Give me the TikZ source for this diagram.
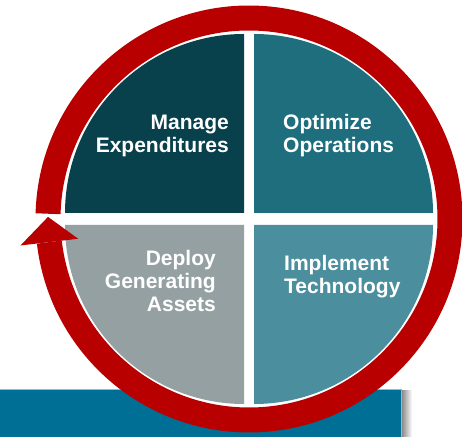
\documentclass[tikz,border=0pt]{standalone}
\usepackage{fontspec}
\setmainfont{Liberation Sans}
\definecolor{tlcol}{RGB}{8,64,76}
\definecolor{trcol}{RGB}{30,110,126}
\definecolor{brcol}{RGB}{75,142,157}
\definecolor{blcol}{RGB}{148,160,162}
\definecolor{ringred}{RGB}{185,0,0}
\definecolor{bandblue}{RGB}{0,111,150}
\tikzset{
  quarter/.style={text=white, font=\bfseries\fontsize{21}{23}\selectfont, inner sep=0pt},
}
\begin{document}
\begin{tikzpicture}[x=1pt,y=1pt]
    \useasboundingbox (0,0) rectangle (462,436);
    % band at the bottom
    \shade[left color=black!50, right color=white] (401,0) rectangle (412,46);
    \filldraw[fill=bandblue, draw=white!55!bandblue, line width=0.8pt] (-1,-1) rectangle (401,47);
    \begin{scope}[shift={(249,217)}]
      \fill[white] (0,0) circle (190);
      % the four quarters
      \fill[tlcol] (-5,6) -- ++(-179,0) arc[start angle=180, end angle=90, radius=179] -- cycle;
      \fill[trcol] (5,6) -- ++(0,179) arc[start angle=90, end angle=0, radius=179] -- cycle;
      \fill[brcol] (5,-6) -- ++(179,0) arc[start angle=0, end angle=-90, radius=179] -- cycle;
      \fill[blcol] (-5,-6) -- ++(0,-179) arc[start angle=-90, end angle=-180, radius=179] -- cycle;
      % ring with arrow head
      \draw[ringred, line width=25pt] (178.5:201) arc[start angle=178.5, end angle=-173.4, radius=201];
      \fill[ringred] (-173.4:172) -- (-173.4:230) -- (179.4:201) -- cycle;
    \end{scope}
    \node[quarter, align=right, anchor=north east] (manage) at (229,321) {Manage\\Expenditures};
    \node[quarter, align=left, anchor=north west] (optimize) at (283,322) {Optimize\\Operations};
    \node[quarter, align=right, anchor=north east] (deploy) at (216,186) {Deploy\\Generating\\Assets};
    \node[quarter, align=left, anchor=north west] (implement) at (284,181) {Implement\\Technology};
  \end{tikzpicture}
\end{document}
